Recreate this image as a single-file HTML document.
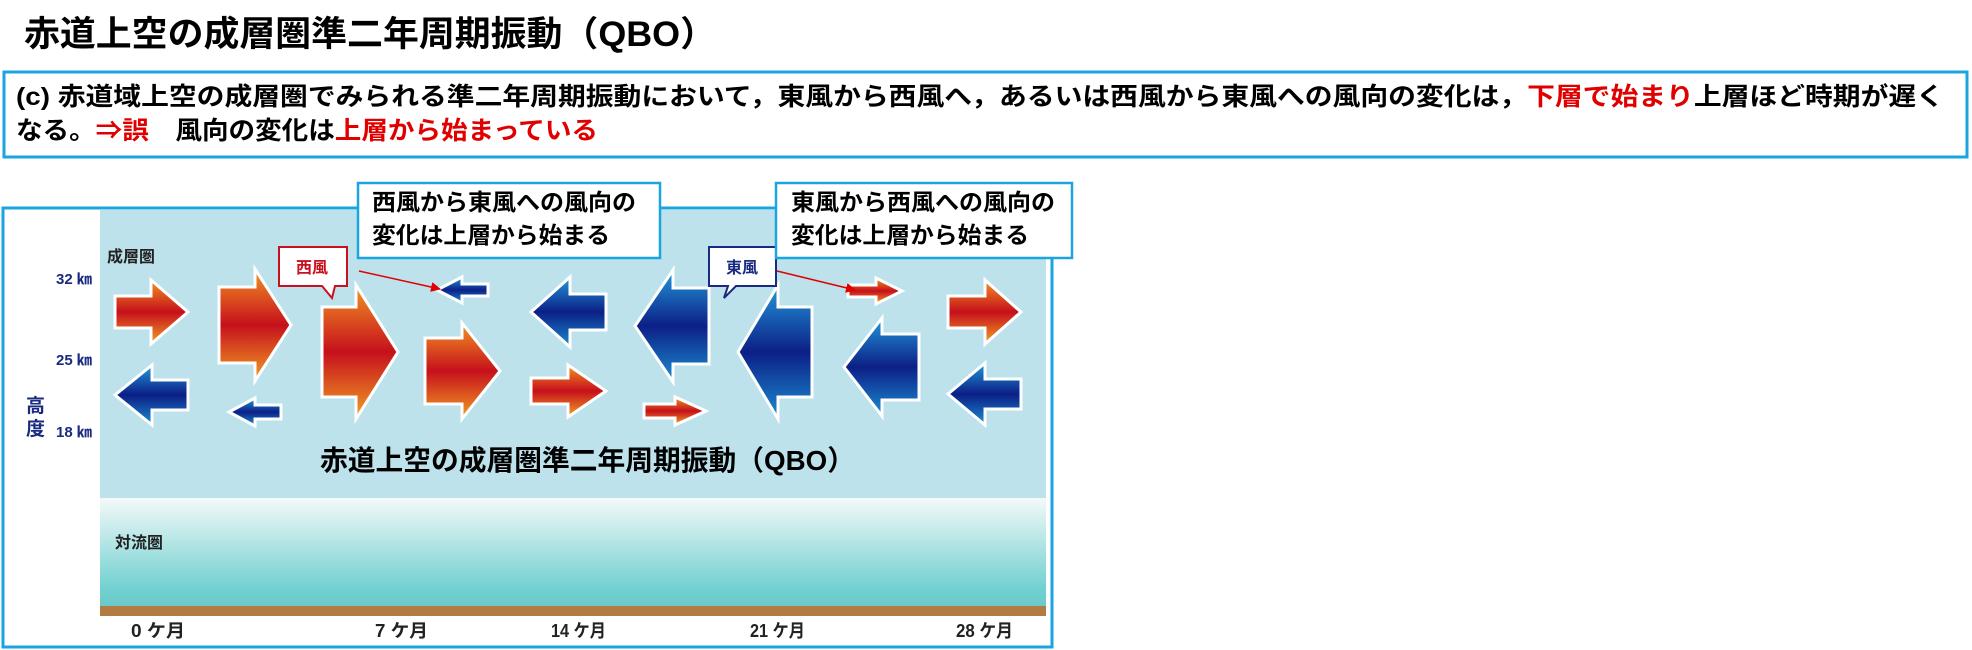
<!DOCTYPE html>
<html><head><meta charset="utf-8"><style>
html,body{margin:0;padding:0;background:#fff;}
svg{display:block;}
text{font-family:"Liberation Sans","Noto Sans CJK JP",sans-serif;font-weight:bold;}
</style></head><body>
<svg width="1972" height="650" viewBox="0 0 1972 650" xmlns="http://www.w3.org/2000/svg">
<defs>
<linearGradient id="rg" x1="0" y1="0" x2="0" y2="1"><stop offset="0" stop-color="#f29422"/><stop offset="0.5" stop-color="#c6101c"/><stop offset="1" stop-color="#f2a024"/></linearGradient>
<linearGradient id="bg" x1="0" y1="0" x2="0" y2="1"><stop offset="0" stop-color="#2298da"/><stop offset="0.5" stop-color="#0c1f86"/><stop offset="1" stop-color="#1b8dd2"/></linearGradient>
<linearGradient id="tg" x1="0" y1="0" x2="0" y2="1"><stop offset="0" stop-color="#f4f9f9"/><stop offset="0.85" stop-color="#70d0d0"/><stop offset="1" stop-color="#6cc9c9"/></linearGradient>
<marker id="ah" markerWidth="10" markerHeight="10" refX="9" refY="5" orient="auto" markerUnits="userSpaceOnUse"><path d="M0,0 L10,5 L0,10 z" fill="#e00000"/></marker>
</defs>

<text x="24" y="46" font-size="35" textLength="692" lengthAdjust="spacingAndGlyphs" fill="#000">赤道上空の成層圏準二年周期振動（QBO）</text>

<rect x="4" y="72" width="1963" height="85" fill="#fff" stroke="#1aa5e0" stroke-width="3"/>
<text x="16" y="105" font-size="25" textLength="1928" lengthAdjust="spacingAndGlyphs" fill="#000">(c) 赤道域上空の成層圏でみられる準二年周期振動において，東風から西風へ，あるいは西風から東風への風向の変化は，<tspan fill="#e00000">下層で始まり</tspan>上層ほど時期が遅く</text>
<text x="16" y="139" font-size="25" textLength="582" lengthAdjust="spacingAndGlyphs" fill="#000">なる。<tspan fill="#e00000">⇒誤</tspan>　風向の変化は<tspan fill="#e00000">上層から始まっている</tspan></text>

<rect x="3" y="208" width="1049" height="439" fill="#fff" stroke="#1aa5e0" stroke-width="3"/>
<rect x="100" y="210" width="946" height="288" fill="#bde2eb"/>
<rect x="100" y="498" width="946" height="108" fill="url(#tg)"/>
<rect x="100" y="606" width="946" height="10" fill="#b27b42"/>

<text x="107" y="262" font-size="16" fill="#222">成層圏</text>
<text x="56" y="284" font-size="15" fill="#1a2a80">32 ㎞</text>
<text x="56" y="365" font-size="15" fill="#1a2a80">25 ㎞</text>
<text x="56" y="437" font-size="15" fill="#1a2a80">18 ㎞</text>
<text x="26" y="412" font-size="19" fill="#1a2a80">高</text>
<text x="26" y="435" font-size="19" fill="#1a2a80">度</text>
<text x="115" y="548" font-size="16" fill="#222">対流圏</text>

<g stroke="#fff" stroke-width="3" stroke-linejoin="miter">
<path d="M115,296 L151,296 L151,280 L188,312 L151,344 L151,328 L115,328 Z" fill="url(#rg)"/>
<path d="M188,380 L152,380 L152,365 L115,395 L152,425 L152,410 L188,410 Z" fill="url(#bg)"/>
<path d="M219,287 L255,287 L255,269 L291,325 L255,381 L255,363 L219,363 Z" fill="url(#rg)"/>
<path d="M281,405 L255,405 L255,398 L229,412 L255,426 L255,419 L281,419 Z" fill="url(#bg)"/>
<path d="M322,307 L356,307 L356,285 L398,352 L356,419 L356,397 L322,397 Z" fill="url(#rg)"/>
<path d="M488,284 L462,284 L462,277 L437,290 L462,303 L462,296 L488,296 Z" fill="url(#bg)"/>
<path d="M425,338 L462,338 L462,323 L500,371 L462,419 L462,404 L425,404 Z" fill="url(#rg)"/>
<path d="M606,294 L570,294 L570,277 L531,312 L570,347 L570,330 L606,330 Z" fill="url(#bg)"/>
<path d="M531,378 L568,378 L568,365 L606,391 L568,417 L568,404 L531,404 Z" fill="url(#rg)"/>
<path d="M709,288 L673,288 L673,270 L635,326 L673,382 L673,364 L709,364 Z" fill="url(#bg)"/>
<path d="M644,404 L675,404 L675,397 L706,411 L675,425 L675,418 L644,418 Z" fill="url(#rg)"/>
<path d="M812,307 L778,307 L778,285 L738,352 L778,419 L778,397 L812,397 Z" fill="url(#bg)"/>
<path d="M848,285 L876,285 L876,278 L902,291 L876,304 L876,297 L848,297 Z" fill="url(#rg)"/>
<path d="M919,334 L882,334 L882,318 L844,367 L882,416 L882,400 L919,400 Z" fill="url(#bg)"/>
<path d="M948,296 L985,296 L985,280 L1021,312 L985,344 L985,328 L948,328 Z" fill="url(#rg)"/>
<path d="M1021,379 L985,379 L985,363 L948,394 L985,425 L985,409 L1021,409 Z" fill="url(#bg)"/>
</g>

<path d="M279,247 L347,247 L347,286 L335,286 L332,298 L322,286 L279,286 Z" fill="#fff" stroke="#c8101e" stroke-width="2"/>
<text x="296" y="273" font-size="16" fill="#c8101e">西風</text>
<path d="M709,247 L776,247 L776,286 L736,286 L724,298 L728,286 L709,286 Z" fill="#fff" stroke="#1a2a80" stroke-width="2"/>
<text x="726" y="273" font-size="16" fill="#1a2a80">東風</text>

<line x1="359" y1="271" x2="440" y2="289" stroke="#e00000" stroke-width="1.5" marker-end="url(#ah)"/>
<line x1="777" y1="271" x2="855" y2="290" stroke="#e00000" stroke-width="1.5" marker-end="url(#ah)"/>

<rect x="358" y="183" width="302" height="75" fill="#fff" stroke="#1aa5e0" stroke-width="2.5"/>
<text x="372" y="210" font-size="23" textLength="264" lengthAdjust="spacingAndGlyphs" fill="#000">西風から東風への風向の</text>
<text x="372" y="243" font-size="23" textLength="238" lengthAdjust="spacingAndGlyphs" fill="#000">変化は上層から始まる</text>
<rect x="776" y="183" width="296" height="75" fill="#fff" stroke="#1aa5e0" stroke-width="2.5"/>
<text x="791" y="210" font-size="23" textLength="264" lengthAdjust="spacingAndGlyphs" fill="#000">東風から西風への風向の</text>
<text x="791" y="243" font-size="23" textLength="238" lengthAdjust="spacingAndGlyphs" fill="#000">変化は上層から始まる</text>

<text x="320" y="470" font-size="28" textLength="535" lengthAdjust="spacingAndGlyphs" fill="#000">赤道上空の成層圏準二年周期振動（QBO）</text>

<text x="131" y="637" font-size="18" textLength="54" lengthAdjust="spacingAndGlyphs" fill="#222">0 ケ月</text>
<text x="375" y="637" font-size="18" textLength="53" lengthAdjust="spacingAndGlyphs" fill="#222">7 ケ月</text>
<text x="551" y="637" font-size="18" textLength="55" lengthAdjust="spacingAndGlyphs" fill="#222">14 ケ月</text>
<text x="750" y="637" font-size="18" textLength="55" lengthAdjust="spacingAndGlyphs" fill="#222">21 ケ月</text>
<text x="956" y="637" font-size="18" textLength="57" lengthAdjust="spacingAndGlyphs" fill="#222">28 ケ月</text>
</svg>
</body></html>
